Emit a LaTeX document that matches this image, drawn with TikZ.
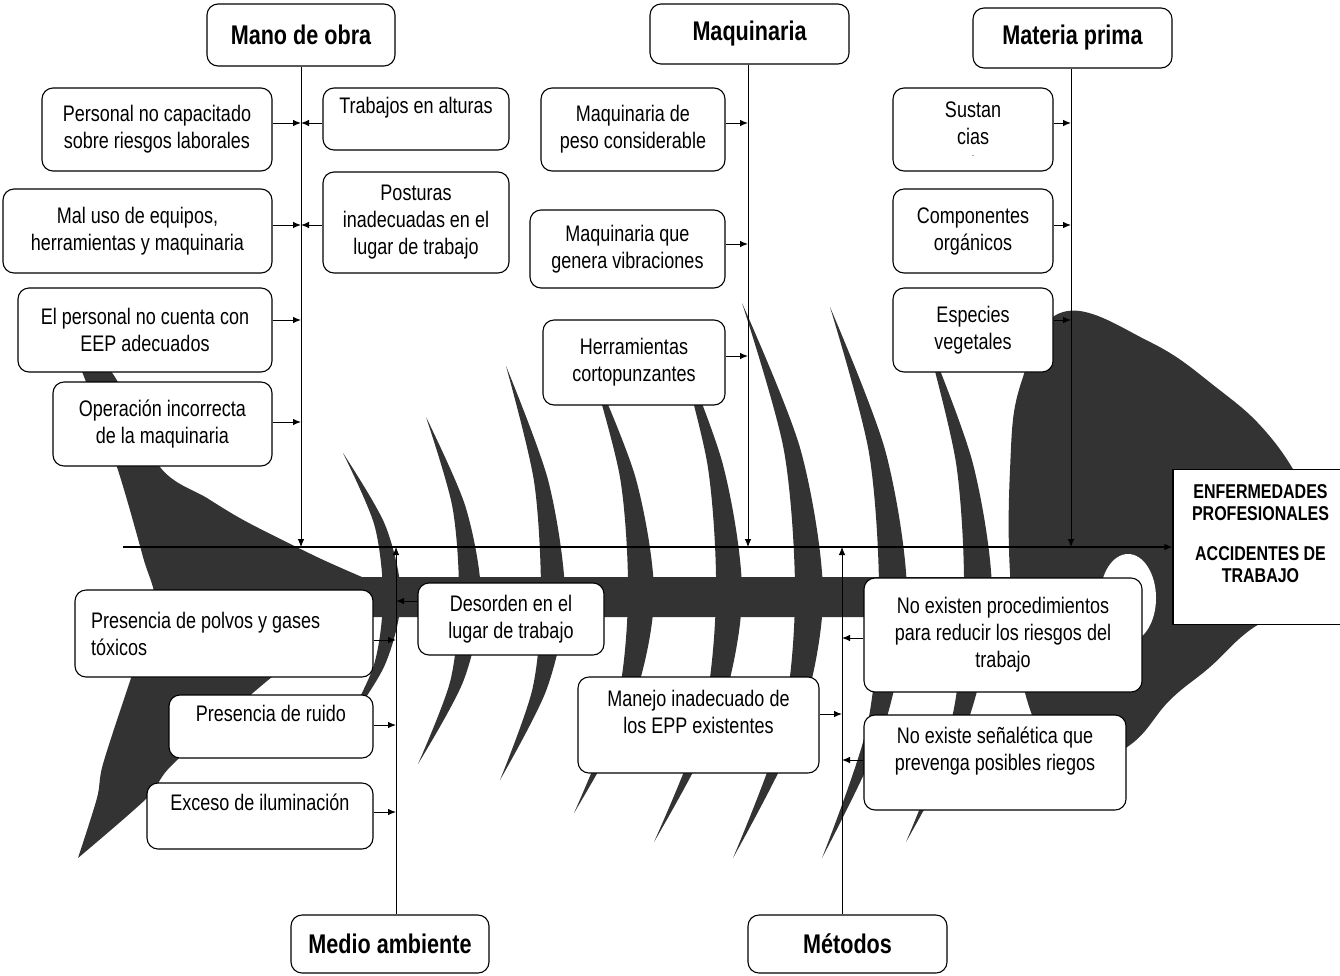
\documentclass[tikz,border=0pt]{standalone}
\usepackage{fontspec}
\setmainfont{Liberation Sans}[FakeStretch=0.8]
\usetikzlibrary{arrows.meta}
\begin{document}
\begin{tikzpicture}[x=1pt, y=-1pt, line join=round, >={Latex[length=8pt, width=6.5pt]},
	fish/.style={fill=black!80},
	causa/.style={draw, fill=white, rounded corners=11pt, line width=1.1pt, align=center, inner sep=0pt, font=\fontsize{22.5}{27}\selectfont},
	categoria/.style={causa, font=\fontsize{27}{30}\selectfont\bfseries},
	flecha/.style={->, line width=1pt}, linea/.style={->, line width=0.8pt}]
	\def\ye{547} \def\ys{597}
	\useasboundingbox (0,0) rectangle (1340,975);
	\fill[fish] plot[smooth] coordinates {(65,330) (83,374) (117,467) (143,557) (155,607) (130,681) (103,764) (97,798) (78,858)}
		-- plot[smooth] coordinates {(78,858) (147,798) (173,764) (267,681) (350,617)}
		-- (1020,617) -- (1020,577) -- (362,577)
		-- plot[smooth] coordinates {(362,577) (317,557) (247,522) (207,498) (160,467) (113,374) (65,330)} -- cycle;
	\foreach \xt/\yt/\xs/\xb/\yb/\g in {343/453/392/340/735/9, 426/417/470/418/764/11, 506/366/553/500/780/12, 589/360/641/574/813/13,
		675/335/729/654/842/13, 742/303/809/733/858/14, 830/307/893/822/858/14, 924/330/978/906/842/14}{
		\fill[fish] plot[smooth] coordinates {(\xt,\yt) ({\xs-0.25*(\xs-\xt)+0.6*\g},{(\yt+\ys)/2}) (\xs+\g,\ys) ({\xs-0.25*(\xs-\xb)+0.6*\g},{(\yb+\ys)/2}) (\xb,\yb)}
			-- plot[smooth] coordinates {(\xb,\yb) ({\xs-0.25*(\xs-\xb)-0.6*\g},{(\yb+\ys)/2}) (\xs-\g,\ys) ({\xs-0.25*(\xs-\xt)-0.6*\g},{(\yt+\ys)/2}) (\xt,\yt)} -- cycle;}
	\fill[fish] plot[smooth cycle, tension=0.7] coordinates {(1063,312) (1150,342) (1217,388) (1267,433) (1305,490) (1330,545) (1300,600) (1250,630)
		(1210,667) (1170,700) (1130,745) (1075,768) (1032,715) (1012,600) (1010,470) (1022,380)};
	\fill[white] (1128,598) ellipse [x radius=28, y radius=44];
	\coordinate (eje) at (123,\ye);
	\foreach \nom/\x in {jmo/301, jmq/748, jmp/1071, jma/396, jme/842}{
		\coordinate (\nom) at (\x,\ye);}
	\node[draw, fill=white, line width=1.1pt, minimum width=175pt, minimum height=155pt, inner sep=0pt, align=center,
		font=\fontsize{20}{22}\selectfont\bfseries] (res) at (1260.5,\ye) {ENFERMEDADES\\PROFESIONALES\\[18pt]ACCIDENTES DE\\TRABAJO\\[4pt]\mbox{}};
	\draw[->, line width=1.3pt] (eje) -- (res.west);
	\foreach \nom/\x/\y/\w/\h/\txt in {mano/301/35/188/62/{Mano de obra}, maqui/749.5/34/199/60/{Maquinaria}, mater/1072.5/38/199/60/{Materia prima},
		medio/390/944/198/58/{Medio ambiente}, metod/847.5/944/199/58/{Métodos}}{
		\node[categoria, minimum width=\w pt, minimum height=\h pt] (\nom) at (\x,\y) {\txt};}
	\draw[linea] (mano.south -| jmo) -- (jmo);
	\draw[linea] (maqui.south -| jmq) -- (jmq);
	\draw[linea] (mater.south -| jmp) -- (jmp);
	\draw[linea] (medio.north -| jma) -- (jma);
	\draw[linea] (metod.north -| jme) -- (jme);
	\foreach \nom/\x/\y/\w/\h/\ay/\lin/\lado/\txt in {
		mo1/157/129.5/230/83/123/jmo/east/{Personal no capacitado\\sobre riesgos laborales},
		mo2/137.5/231/269/84/225/jmo/east/{Mal uso de equipos,\\herramientas y maquinaria},
		mo3/145/330/254/84/320/jmo/east/{El personal no cuenta con\\EEP adecuados},
		mo4/162.5/424/219/84/422/jmo/east/{Operación incorrecta\\de la maquinaria},
		mo5/416/119/186/62/123/jmo/west/{Trabajos en alturas\\\mbox{}},
		mo6/416/222.5/186/101/225/jmo/west/{Posturas\\inadecuadas en el\\lugar de trabajo},
		mq1/633/129.5/184/83/123/jmq/east/{Maquinaria de\\peso considerable},
		mq2/627.5/249/195/78/244/jmq/east/{Maquinaria que\\genera vibraciones},
		mq3/634/362.5/182/85/356/jmq/east/{Herramientas\\cortopunzantes},
		mp1/973/129.5/160/83/123/jmp/east/{Sustan\\cias\\[-15pt]{\small .}},
		mp2/973/231/160/84/225/jmp/east/{Componentes\\orgánicos},
		mp3/973/330/160/84/320/jmp/east/{Especies\\vegetales},
		ma2/271/726.5/204/63/725/jma/east/{Presencia de ruido\\\mbox{}},
		ma3/260/816/226/66/812/jma/east/{Exceso de iluminación\\\mbox{}},
		ma4/511/619/186/72/601/jma/west/{Desorden en el\\lugar de trabajo},
		me1/698.5/725/241/96/714/jme/east/{Manejo inadecuado de\\los EPP existentes\\\mbox{}},
		me2/1003/635/278/114/638/jme/west/{No existen procedimientos\\para reducir los riesgos del\\trabajo},
		me3/995/762.5/262/95/760/jme/west/{No existe señalética que\\prevenga posibles riegos\\\mbox{}}}{
		\node[causa, minimum width=\w pt, minimum height=\h pt] (\nom) at (\x,\y) {\txt};
		\draw[flecha] (\nom.\lado |- 0,\ay) -- (\lin |- 0,\ay);}
	\node[causa, align=flush left, text width=266pt, inner xsep=16pt, minimum height=87pt] (ma1) at (224,633.5) {Presencia de polvos y gases\\tóxicos};
	\draw[flecha] (ma1.east |- 0,640) -- (jma |- 0,640);
\end{tikzpicture}
\end{document}
